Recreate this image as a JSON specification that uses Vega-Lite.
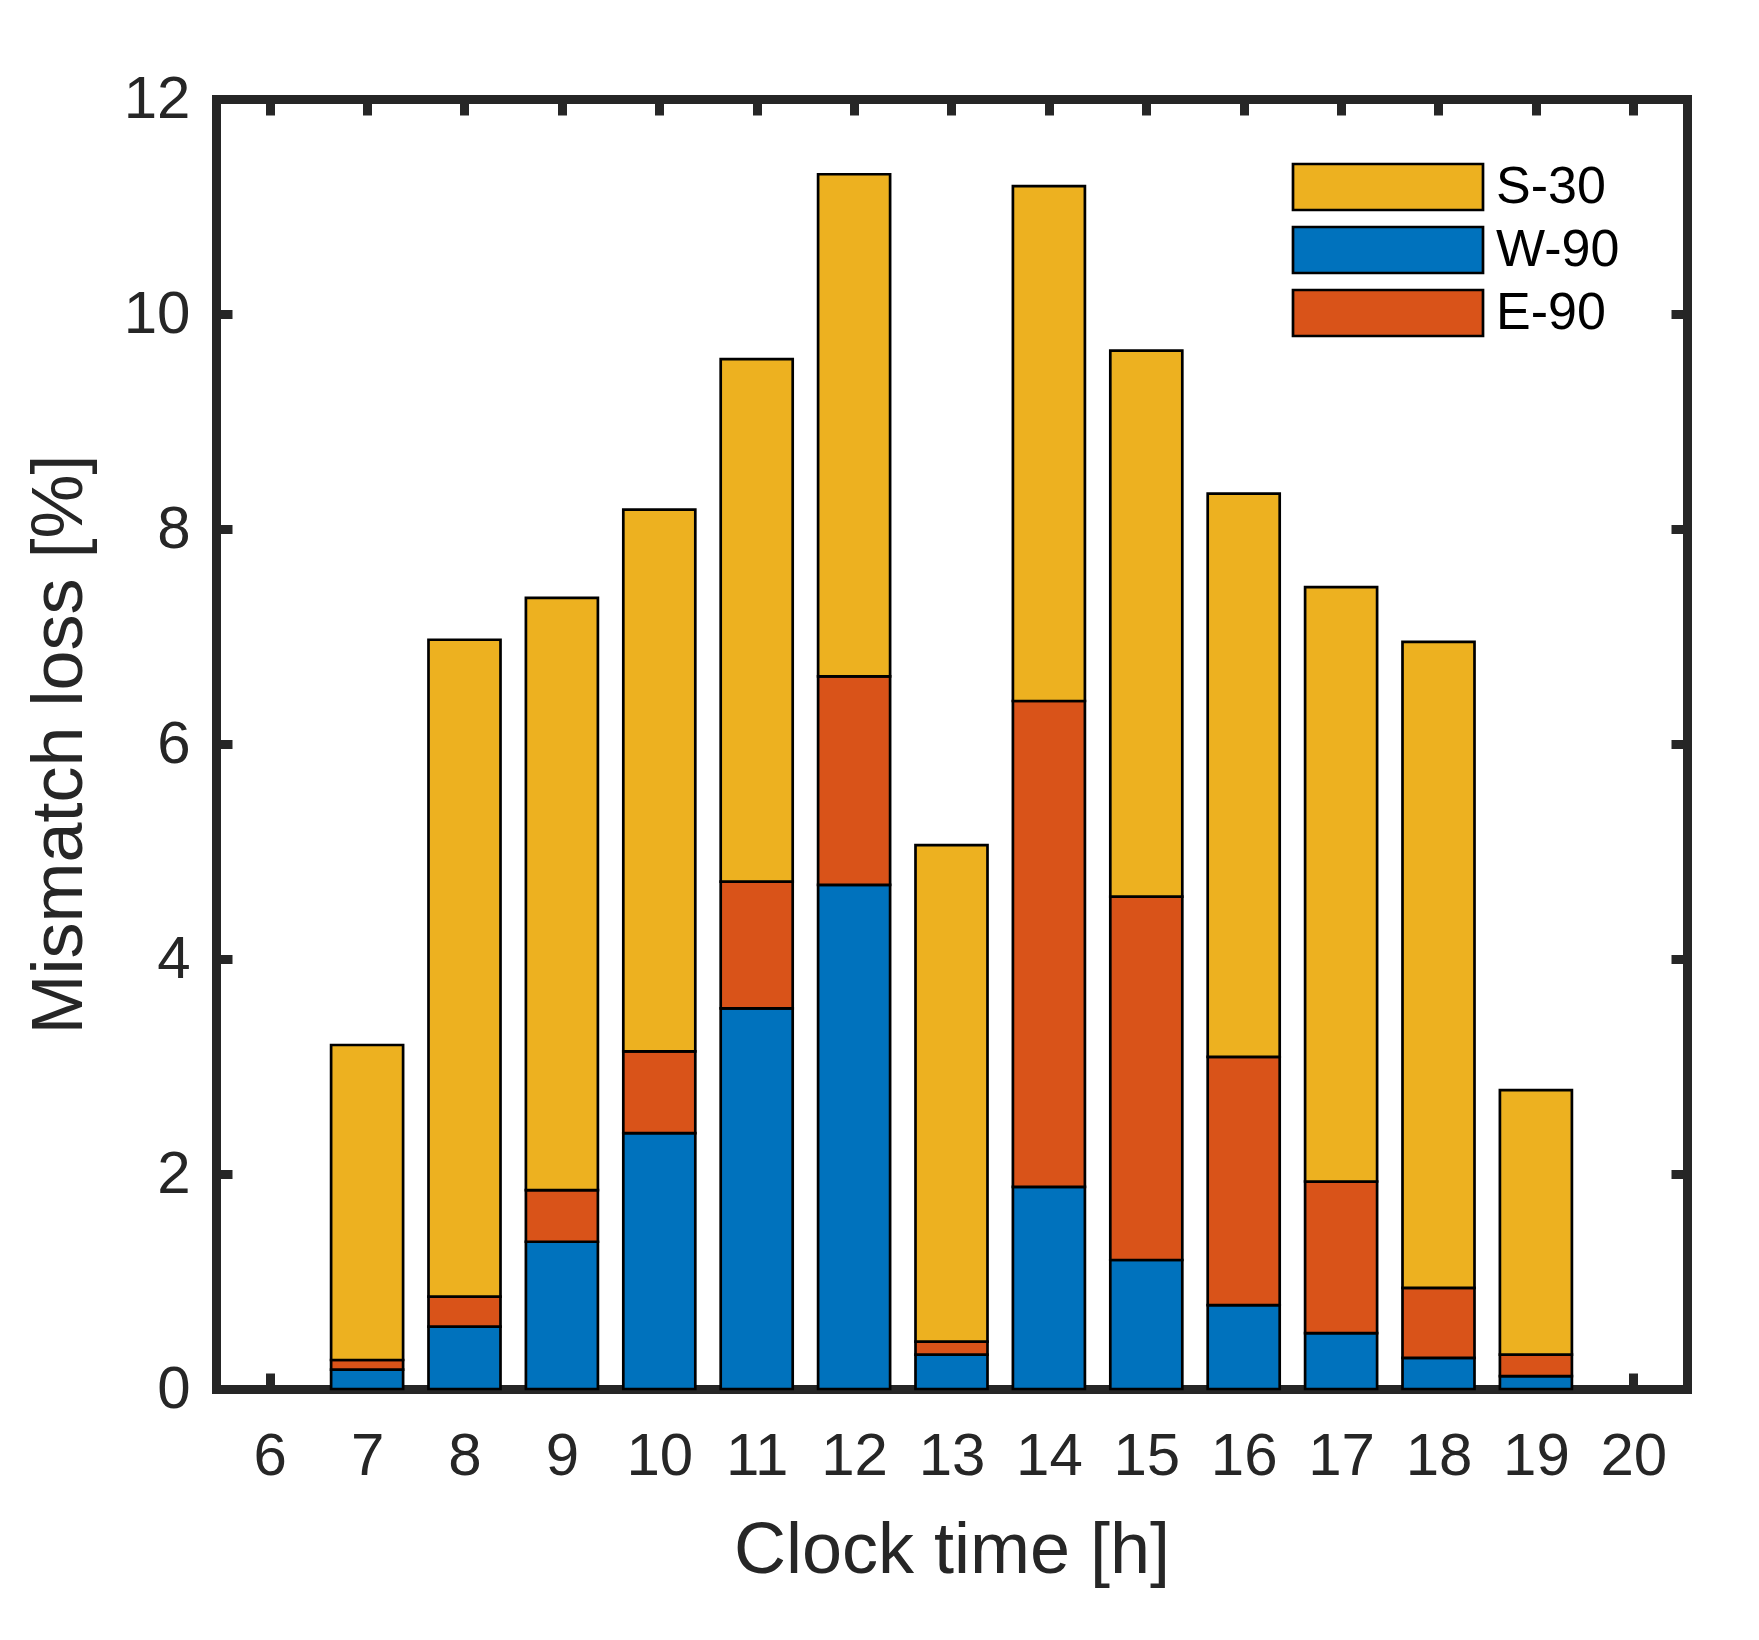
{
  "$schema": "https://vega.github.io/schema/vega-lite/v6.json",
  "width": 1471,
  "height": 1290,
  "autosize": {"type": "none"},
  "padding": {"left": 216, "top": 99, "right": 72, "bottom": 251},
  "background": "white",
  "data": {
    "values": [
      {"hour": 7, "series": "W-90", "loss": 0.18},
      {"hour": 7, "series": "E-90", "loss": 0.09},
      {"hour": 7, "series": "S-30", "loss": 2.93},
      {"hour": 8, "series": "W-90", "loss": 0.58},
      {"hour": 8, "series": "E-90", "loss": 0.28},
      {"hour": 8, "series": "S-30", "loss": 6.11},
      {"hour": 9, "series": "W-90", "loss": 1.37},
      {"hour": 9, "series": "E-90", "loss": 0.48},
      {"hour": 9, "series": "S-30", "loss": 5.51},
      {"hour": 10, "series": "W-90", "loss": 2.38},
      {"hour": 10, "series": "E-90", "loss": 0.76},
      {"hour": 10, "series": "S-30", "loss": 5.04},
      {"hour": 11, "series": "W-90", "loss": 3.54},
      {"hour": 11, "series": "E-90", "loss": 1.18},
      {"hour": 11, "series": "S-30", "loss": 4.86},
      {"hour": 12, "series": "W-90", "loss": 4.69},
      {"hour": 12, "series": "E-90", "loss": 1.94},
      {"hour": 12, "series": "S-30", "loss": 4.67},
      {"hour": 13, "series": "W-90", "loss": 0.32},
      {"hour": 13, "series": "E-90", "loss": 0.12},
      {"hour": 13, "series": "S-30", "loss": 4.62},
      {"hour": 14, "series": "W-90", "loss": 1.88},
      {"hour": 14, "series": "E-90", "loss": 4.52},
      {"hour": 14, "series": "S-30", "loss": 4.79},
      {"hour": 15, "series": "W-90", "loss": 1.20},
      {"hour": 15, "series": "E-90", "loss": 3.38},
      {"hour": 15, "series": "S-30", "loss": 5.08},
      {"hour": 16, "series": "W-90", "loss": 0.78},
      {"hour": 16, "series": "E-90", "loss": 2.31},
      {"hour": 16, "series": "S-30", "loss": 5.24},
      {"hour": 17, "series": "W-90", "loss": 0.52},
      {"hour": 17, "series": "E-90", "loss": 1.41},
      {"hour": 17, "series": "S-30", "loss": 5.53},
      {"hour": 18, "series": "W-90", "loss": 0.29},
      {"hour": 18, "series": "E-90", "loss": 0.65},
      {"hour": 18, "series": "S-30", "loss": 6.01},
      {"hour": 19, "series": "W-90", "loss": 0.12},
      {"hour": 19, "series": "E-90", "loss": 0.20},
      {"hour": 19, "series": "S-30", "loss": 2.46}
    ]
  },
  "transform": [
    {"calculate": "indexof(['W-90', 'E-90', 'S-30'], datum.series)", "as": "stackRank"}
  ],
  "layer": [
    {
      "mark": {"type": "bar", "size": 72, "stroke": "black", "strokeWidth": 2.7},
      "encoding": {
        "x": {
          "field": "hour",
          "type": "quantitative",
          "scale": {"domain": [5.5, 20.5], "nice": false, "zero": false},
          "axis": {
            "orient": "bottom",
            "title": "Clock time [h]",
            "values": [6, 7, 8, 9, 10, 11, 12, 13, 14, 15, 16, 17, 18, 19, 20],
            "labelPadding": 54,
            "titlePadding": 29
          }
        },
        "y": {
          "field": "loss",
          "type": "quantitative",
          "stack": "zero",
          "scale": {"domain": [0, 12], "nice": false},
          "axis": {
            "orient": "left",
            "title": "Mismatch loss [%]",
            "values": [0, 2, 4, 6, 8, 10, 12],
            "labelPadding": 42,
            "titlePadding": 27
          }
        },
        "color": {
          "field": "series",
          "type": "nominal",
          "scale": {
            "domain": ["S-30", "W-90", "E-90"],
            "range": ["#EDB120", "#0072BD", "#D95319"]
          },
          "legend": {
            "orient": "none",
            "legendX": 1146,
            "legendY": 62,
            "title": null,
            "padding": 0,
            "symbolType": "M-9.5,-2.3H9.5V2.3H-9.5Z",
            "symbolSize": 400,
            "symbolStrokeColor": "black",
            "symbolStrokeWidth": 2.7,
            "symbolOpacity": 1,
            "labelFont": "Liberation Sans",
            "labelFontSize": 52,
            "labelColor": "black",
            "labelOffset": 82,
            "rowPadding": 5
          }
        },
        "order": {"field": "stackRank"}
      }
    },
    {
      "mark": {"type": "bar", "size": 72, "opacity": 0},
      "encoding": {
        "x": {
          "field": "hour",
          "type": "quantitative",
          "axis": {
            "orient": "top",
            "title": null,
            "labels": false,
            "values": [6, 7, 8, 9, 10, 11, 12, 13, 14, 15, 16, 17, 18, 19, 20]
          }
        },
        "y": {
          "field": "loss",
          "type": "quantitative",
          "stack": "zero",
          "axis": {
            "orient": "right",
            "title": null,
            "labels": false,
            "values": [0, 2, 4, 6, 8, 10, 12]
          }
        },
        "order": {"field": "stackRank"}
      }
    }
  ],
  "resolve": {"axis": {"x": "independent", "y": "independent"}},
  "config": {
    "view": {"stroke": null},
    "axis": {
      "grid": false,
      "domainColor": "#262626",
      "domainWidth": 9,
      "domainCap": "square",
      "tickColor": "#262626",
      "tickWidth": 9,
      "tickSize": -16,
      "labelFont": "Liberation Sans",
      "labelFontSize": 60,
      "labelColor": "#262626",
      "labelFlush": false,
      "labelOverlap": false,
      "titleFont": "Liberation Sans",
      "titleFontSize": 72,
      "titleFontWeight": "normal",
      "titleColor": "#262626",
      "zindex": 1
    }
  }
}
